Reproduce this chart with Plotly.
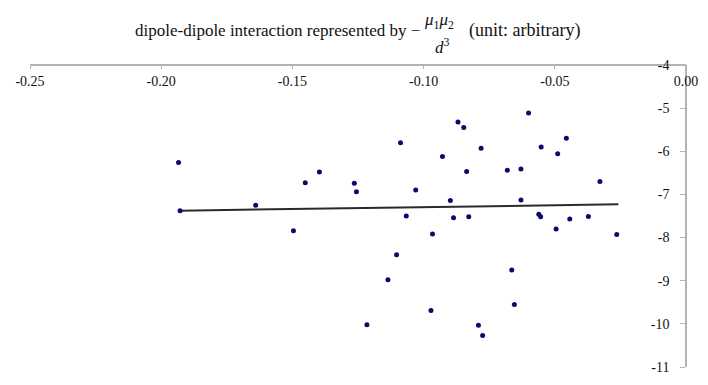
import plotly.graph_objects as go

# --- data ---
dipole_x = [-0.1934, -0.1928, -0.1640, -0.1496, -0.1451, -0.1397, -0.1264, -0.1256,
            -0.1216, -0.1136, -0.1103, -0.1088, -0.1066, -0.1030, -0.0972, -0.0966,
            -0.0928, -0.0898, -0.0886, -0.0869, -0.0847, -0.0836, -0.0828, -0.0791,
            -0.0781, -0.0775, -0.0681, -0.0664, -0.0654, -0.0629, -0.0629, -0.0600,
            -0.0561, -0.0554, -0.0552, -0.0495, -0.0489, -0.0456, -0.0443, -0.0372,
            -0.0328, -0.0264]
energy_y = [-6.26, -7.38, -7.25, -7.84, -6.73, -6.48, -6.74, -6.94,
            -10.02, -8.98, -8.40, -5.80, -7.50, -6.90, -9.69, -7.92,
            -6.12, -7.14, -7.54, -5.32, -5.45, -6.47, -7.52, -10.03,
            -5.93, -10.27, -6.44, -8.75, -9.55, -6.41, -7.13, -5.11,
            -7.46, -7.52, -5.90, -7.80, -6.06, -5.70, -7.57, -7.51,
            -6.70, -7.93]

trend_x = [-0.1928, -0.0258]
trend_y = [-7.377, -7.23]

x_ticks = [-0.25, -0.20, -0.15, -0.10, -0.05, 0.00]
x_tick_labels = ["-0.25", "-0.20", "-0.15", "-0.10", "-0.05", "0.00"]
y_ticks = [-4, -5, -6, -7, -8, -9, -10, -11]
y_tick_labels = ["-4", "-5", "-6", "-7", "-8", "-9", "-10", "-11"]

FONT = "Liberation Serif, Times New Roman, serif"
AX_COL = "#b4b4b4"
TXT_COL = "#111111"

fig = go.Figure()
fig.add_trace(go.Scatter(x=trend_x, y=trend_y, mode="lines",
                         line=dict(color="#2a2a2a", width=2), showlegend=False,
                         hoverinfo="skip"))
fig.add_trace(go.Scatter(x=dipole_x, y=energy_y, mode="markers",
                         marker=dict(color="#0b0b6b", size=5), showlegend=False))

common = dict(showgrid=False, zeroline=False, showline=True, linecolor=AX_COL,
              linewidth=1.5, ticks="outside", tickcolor=AX_COL,
              tickwidth=1.2, tickfont=dict(family=FONT, size=14, color=TXT_COL))

fig.update_layout(
    width=708, height=385,
    margin=dict(l=30, r=20, t=65, b=10),
    paper_bgcolor="white", plot_bgcolor="white",
    font=dict(family=FONT, size=14, color=TXT_COL),
    xaxis=dict(range=[-0.25, 0.0], tickvals=x_ticks, ticktext=x_tick_labels,
               side="bottom", anchor="free", position=1, ticklen=3,
               ticklabelstandoff=0, **common),
    yaxis=dict(range=[-11, -4], tickvals=y_ticks, ticktext=y_tick_labels,
               side="left", anchor="free", position=1, domain=[0, 1],
               ticklen=5, ticklabelstandoff=8, **common),
    xaxis2=dict(range=[-0.25, 0.0], tickvals=x_ticks, showticklabels=False,
                overlaying="x", side="top", anchor="free", position=1,
                showgrid=False, zeroline=False, showline=False, ticks="outside",
                ticklen=3, tickcolor=AX_COL, tickwidth=1.2),
    yaxis2=dict(range=[-11, -4], tickvals=y_ticks, showticklabels=False,
                overlaying="y", side="right", anchor="free", position=1,
                showgrid=False, zeroline=False, showline=False, ticks="outside",
                ticklen=7, tickcolor=AX_COL, tickwidth=1.2),
)

# title built from pieces (formula -mu1 mu2 / d^3)
W, H = 658.0, 310.0  # plot area in px
def px(xp):
    return (xp - 30) / W
def py(yp):
    return (375 - yp) / H

fig.add_annotation(xref="paper", yref="paper", x=px(423), y=py(30),
                   xanchor="right", yanchor="middle", showarrow=False,
                   text="dipole-dipole interaction represented by \u2212",
                   font=dict(family=FONT, size=17, color=TXT_COL))
fig.add_annotation(xref="paper", yref="paper", x=px(440), y=py(20),
                   xanchor="center", yanchor="middle", showarrow=False,
                   text="<i>\u03bc</i><sub>1</sub><i>\u03bc</i><sub>2</sub>",
                   font=dict(family=FONT, size=17, color=TXT_COL))
fig.add_annotation(xref="paper", yref="paper", x=px(444), y=py(46),
                   xanchor="center", yanchor="middle", showarrow=False,
                   text="<i>d</i><sup>3</sup>",
                   font=dict(family=FONT, size=17, color=TXT_COL))
fig.add_annotation(xref="paper", yref="paper", x=px(468), y=py(30),
                   xanchor="left", yanchor="middle", showarrow=False,
                   text="(unit: arbitrary)",
                   font=dict(family=FONT, size=18, color=TXT_COL))

fig.write_html("out.html", config={"displayModeBar": False},
               post_script="document.body.style.margin='0px';")
